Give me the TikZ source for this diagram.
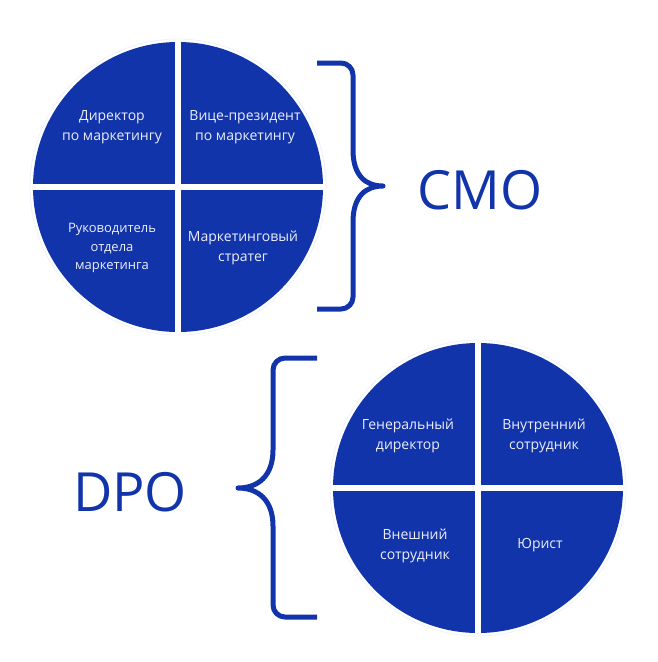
\documentclass[tikz,border=0pt]{standalone}
\usepackage{fontspec}
\setmainfont{Open Sans}
\usepackage{tikz}
\usetikzlibrary{positioning}
\definecolor{blau}{RGB}{18,52,170}
\definecolor{hell}{RGB}{236,238,250}
\tikzstyle{kreis}=[circle,fill=blau,inner sep=0pt,minimum size=290pt]
\tikzstyle{ring}=[draw=blau!7,line width=0.8pt]
\tikzstyle{spalt}=[draw=white,line width=6pt]
\tikzstyle{feld}=[text=hell,align=center,inner sep=0pt,font=\fontsize{14}{20}\selectfont]
\tikzstyle{titel}=[text=blau,inner sep=0pt,font=\fontsize{54}{60}\selectfont]
\tikzstyle{klammer}=[draw=blau,line width=5pt,line join=round]

\begin{document}
\begin{tikzpicture}[x=1pt,y=-1pt]
    \useasboundingbox (0,0) rectangle (658,662);

    % Kreise
    \node[kreis] (kreis1) at (178,187) {};
    \node[kreis] (kreis2) at (478,488) {};
    \draw[ring] (kreis1.center) circle (148);
    \draw[ring] (kreis2.center) circle (148);

    % Trennlinien
    \draw[spalt] (kreis1.north) -- (kreis1.south);
    \draw[spalt] (kreis1.west) -- (kreis1.east);
    \draw[spalt] (kreis2.north) -- (kreis2.south);
    \draw[spalt] (kreis2.west) -- (kreis2.east);

    % Felder oben
    \node[feld] (cmo1) at (112,127) {Директор\\по маркетингу};
    \node[feld] (cmo2) at (245,127) {Вице-президент\\по маркетингу};
    \node[feld, font=\fontsize{13}{18.5}\selectfont] (cmo3) at (112,248) {Руководитель\\отдела\\маркетинга};
    \node[feld] (cmo4) at (243,248) {Маркетинговый\\стратег};

    % Felder unten
    \node[feld] (dpo1) at (408,436) {Генеральный\\директор};
    \node[feld] (dpo2) at (544,436) {Внутренний\\сотрудник};
    \node[feld] (dpo3) at (415,546) {Внешний\\сотрудник};
    \node[feld] (dpo4) at (540,545) {Юрист};

    % Klammern
    \draw[klammer] (317,63) -- (341,63) to[out=0,in=90] (353,75) -- (353,150)
        .. controls (353,176) and (366,186) .. (383,186)
        .. controls (366,186) and (353,196) .. (353,222) -- (353,297)
        to[out=-90,in=0] (341,309) -- (317,309);
    \draw[klammer] (317,358) -- (285,358) to[out=180,in=90] (273,370) -- (273,450)
        .. controls (273,476) and (258,488) .. (238,488)
        .. controls (258,488) and (273,500) .. (273,526) -- (273,605)
        to[out=-90,in=180] (285,617) -- (317,617);

    % Titel
    \node[titel] (cmo) at (480,190) {CMO};
    \node[titel] (dpo) at (130,492) {DPO};

\end{tikzpicture}
\end{document}
